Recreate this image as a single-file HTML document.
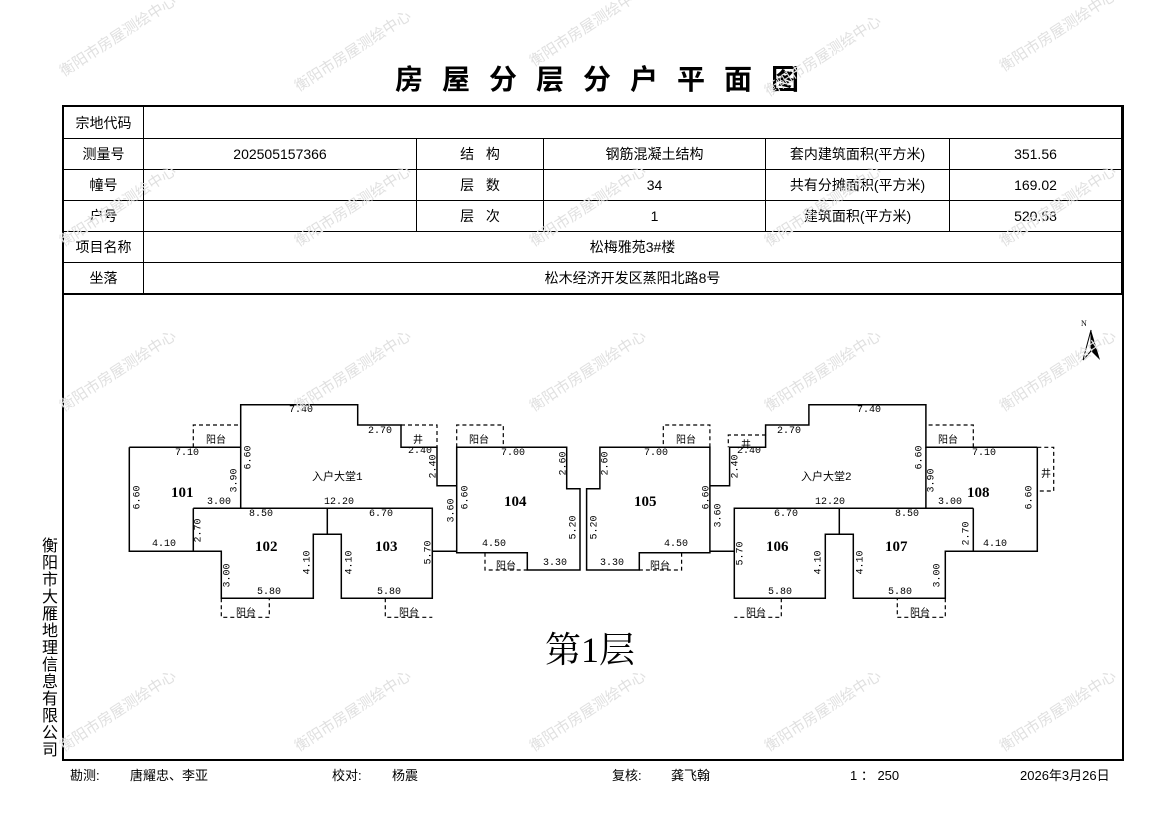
<!DOCTYPE html>
<html><head><meta charset="utf-8"><style>
html,body{margin:0;padding:0;background:#fff;}
body{width:1169px;height:827px;position:relative;overflow:hidden;font-family:"Liberation Sans","Noto Sans CJK SC",sans-serif;color:#000;}
.t{position:absolute;white-space:nowrap;}
.wm{position:absolute;color:#e0e0e0;font-size:15px;transform:rotate(-33deg);white-space:nowrap;font-family:"Liberation Sans","Noto Sans CJK SC",sans-serif;}
table{position:absolute;left:63px;top:106px;border-collapse:collapse;}
td{border:1px solid #000;font-size:14px;text-align:center;padding:0;height:30px;}
</style></head><body>
<div class="t" style="left:395px;top:58px;font-size:28px;font-weight:bold;letter-spacing:19px;">房屋分层分户平面图</div>

<div style="position:absolute;left:62px;top:105px;width:1058px;height:652px;border:2px solid #000;"></div>
<table>
<tr><td style="width:79px;height:31px">宗地代码</td><td colspan="5"></td></tr>
<tr><td>测量号</td><td style="width:272px">202505157366</td><td style="width:126px">结&nbsp;&nbsp;&nbsp;构</td><td style="width:221px">钢筋混凝土结构</td><td style="width:183px">套内建筑面积(平方米)</td><td style="width:171px">351.56</td></tr>
<tr><td>幢号</td><td></td><td>层&nbsp;&nbsp;&nbsp;数</td><td>34</td><td>共有分摊面积(平方米)</td><td>169.02</td></tr>
<tr><td>户号</td><td></td><td>层&nbsp;&nbsp;&nbsp;次</td><td>1</td><td>建筑面积(平方米)</td><td>520.58</td></tr>
<tr><td>项目名称</td><td colspan="5">松梅雅苑3#楼</td></tr>
<tr><td style="border-bottom:2px solid #000">坐落</td><td colspan="5" style="border-bottom:2px solid #000">松木经济开发区蒸阳北路8号</td></tr>
</table>

<svg width="1169" height="827" style="position:absolute;left:0;top:0" xmlns="http://www.w3.org/2000/svg">
<g id="L" fill="none" stroke="#000" stroke-width="1.5">
<path d="M129.3,447.3 H240.7 V404.7 H357.7 V425 H401 V447.3 H437 V485.7 H456.7"/>
<path d="M129.3,447.3 V551.3 H193.3 V508.3"/>
<path d="M193.3,508.3 H432.3 V598.3 H341.3 V534.3 H313.3 V598.3 H221.3 V551.3 H193.3"/>
<path d="M240.7,447.3 V508.3 M327.3,508.3 V534.3 M432.3,551.3 H456.7"/>
<path d="M456.7,447.3 H566.7 V488.7 H580 V570 H527.3 V552.7 H456.7 Z"/>
<g stroke-dasharray="4,3" stroke-width="1.2">
<path d="M193.3,447.3 V425 H240.7"/>
<path d="M456.7,447.3 V425 H503.3 V447.3"/>
<path d="M221.3,598.3 V617.3 H269.3 V598.3"/>
<path d="M385.3,598.3 V617.3 H432.3"/>
<path d="M485,552.7 V570 H527.3"/>
</g>
</g>
<use href="#L" transform="matrix(-1 0 0 1 1166.6 0)"/>
<g fill="none" stroke="#000" stroke-width="1.2" stroke-dasharray="4,3">
<path d="M401,425 H437 V447.3"/>
<path d="M766,435 H728.3 V447.3"/>
<path d="M1037.3,447.3 H1053.7 V491 H1037.3"/>
</g>
<polygon points="1091,330 1083,360 1091,351" fill="#fff" stroke="#000"/>
<polygon points="1091,330 1100,360 1091,351" fill="#000"/>
<text x="1081" y="326" font-size="8" font-family="Liberation Serif">N</text>
</svg>

<div style="position:absolute;left:0;top:0;font-family:'Liberation Mono','Noto Sans CJK SC',monospace;font-size:10px;">
<div class="t" style="left:289px;top:405px">7.40</div>
<div class="t" style="left:368px;top:426px">2.70</div>
<div class="t" style="left:413px;top:431px">井</div>
<div class="t" style="left:206px;top:431px">阳台</div>
<div class="t" style="left:175px;top:448px">7.10</div>
<div class="t" style="left:408px;top:446px">2.40</div>
<div class="t" style="left:422px;top:461px;transform:rotate(-90deg)">2.40</div>
<div class="t" style="left:237px;top:452px;transform:rotate(-90deg)">6.60</div>
<div class="t" style="left:312px;top:468px;font-size:11px">入户大堂1</div>
<div class="t" style="left:223px;top:475px;transform:rotate(-90deg)">3.90</div>
<div class="t" style="left:126px;top:492px;transform:rotate(-90deg)">6.60</div>
<div class="t" style="left:207px;top:497px">3.00</div>
<div class="t" style="left:324px;top:497px">12.20</div>
<div class="t" style="left:249px;top:509px">8.50</div>
<div class="t" style="left:369px;top:509px">6.70</div>
<div class="t" style="left:187px;top:525px;transform:rotate(-90deg)">2.70</div>
<div class="t" style="left:152px;top:539px">4.10</div>
<div class="t" style="left:296px;top:557px;transform:rotate(-90deg)">4.10</div>
<div class="t" style="left:338px;top:557px;transform:rotate(-90deg)">4.10</div>
<div class="t" style="left:417px;top:547px;transform:rotate(-90deg)">5.70</div>
<div class="t" style="left:216px;top:570px;transform:rotate(-90deg)">3.00</div>
<div class="t" style="left:257px;top:587px">5.80</div>
<div class="t" style="left:377px;top:587px">5.80</div>
<div class="t" style="left:236px;top:604px">阳台</div>
<div class="t" style="left:399px;top:604px">阳台</div>
<div class="t" style="left:440px;top:505px;transform:rotate(-90deg)">3.60</div>
<div class="t" style="left:469px;top:431px">阳台</div>
<div class="t" style="left:501px;top:448px">7.00</div>
<div class="t" style="left:552px;top:458px;transform:rotate(-90deg)">2.60</div>
<div class="t" style="left:454px;top:492px;transform:rotate(-90deg)">6.60</div>
<div class="t" style="left:562px;top:522px;transform:rotate(-90deg)">5.20</div>
<div class="t" style="left:482px;top:539px">4.50</div>
<div class="t" style="left:543px;top:558px">3.30</div>
<div class="t" style="left:496px;top:557px">阳台</div>

<div class="t" style="left:676px;top:431px">阳台</div>
<div class="t" style="left:644px;top:448px">7.00</div>
<div class="t" style="left:594px;top:458px;transform:rotate(-90deg)">2.60</div>
<div class="t" style="left:583px;top:522px;transform:rotate(-90deg)">5.20</div>
<div class="t" style="left:695px;top:492px;transform:rotate(-90deg)">6.60</div>
<div class="t" style="left:664px;top:539px">4.50</div>
<div class="t" style="left:600px;top:558px">3.30</div>
<div class="t" style="left:650px;top:557px">阳台</div>
<div class="t" style="left:741px;top:436px">井</div>
<div class="t" style="left:777px;top:426px">2.70</div>
<div class="t" style="left:857px;top:405px">7.40</div>
<div class="t" style="left:737px;top:446px">2.40</div>
<div class="t" style="left:724px;top:461px;transform:rotate(-90deg)">2.40</div>
<div class="t" style="left:801px;top:468px;font-size:11px">入户大堂2</div>
<div class="t" style="left:908px;top:452px;transform:rotate(-90deg)">6.60</div>
<div class="t" style="left:938px;top:431px">阳台</div>
<div class="t" style="left:972px;top:448px">7.10</div>
<div class="t" style="left:1041px;top:465px">井</div>
<div class="t" style="left:920px;top:475px;transform:rotate(-90deg)">3.90</div>
<div class="t" style="left:1018px;top:492px;transform:rotate(-90deg)">6.60</div>
<div class="t" style="left:815px;top:497px">12.20</div>
<div class="t" style="left:938px;top:497px">3.00</div>
<div class="t" style="left:774px;top:509px">6.70</div>
<div class="t" style="left:895px;top:509px">8.50</div>
<div class="t" style="left:707px;top:510px;transform:rotate(-90deg)">3.60</div>
<div class="t" style="left:955px;top:528px;transform:rotate(-90deg)">2.70</div>
<div class="t" style="left:983px;top:539px">4.10</div>
<div class="t" style="left:729px;top:548px;transform:rotate(-90deg)">5.70</div>
<div class="t" style="left:807px;top:557px;transform:rotate(-90deg)">4.10</div>
<div class="t" style="left:849px;top:557px;transform:rotate(-90deg)">4.10</div>
<div class="t" style="left:926px;top:570px;transform:rotate(-90deg)">3.00</div>
<div class="t" style="left:768px;top:587px">5.80</div>
<div class="t" style="left:888px;top:587px">5.80</div>
<div class="t" style="left:746px;top:604px">阳台</div>
<div class="t" style="left:910px;top:604px">阳台</div>
</div>

<div style="position:absolute;left:0;top:0;font-family:'Liberation Serif',serif;font-size:15px;font-weight:bold;">
<div class="t" style="left:171px;top:485px">101</div>
<div class="t" style="left:255px;top:539px">102</div>
<div class="t" style="left:375px;top:539px">103</div>
<div class="t" style="left:504px;top:494px">104</div>
<div class="t" style="left:634px;top:494px">105</div>
<div class="t" style="left:766px;top:539px">106</div>
<div class="t" style="left:885px;top:539px">107</div>
<div class="t" style="left:967px;top:485px">108</div>
</div>
<div class="t" style="left:545px;top:622px;font-size:36px;font-family:'Liberation Serif','Noto Serif CJK SC',serif;">第1层</div>

<div class="t" style="left:42px;top:538px;width:18px;font-size:16px;line-height:17px;white-space:normal;">衡阳市大雁地理信息有限公司</div>

<div style="position:absolute;top:765px;left:0;font-size:13px;">
<div class="t" style="left:70px">勘测:</div>
<div class="t" style="left:130px">唐耀忠、李亚</div>
<div class="t" style="left:332px">校对:</div>
<div class="t" style="left:392px">杨震</div>
<div class="t" style="left:612px">复核:</div>
<div class="t" style="left:671px">龚飞翰</div>
<div class="t" style="left:850px">1 ： 250</div>
<div class="t" style="left:1020px">2026年3月26日</div>
</div>

<div class="wm" style="left:50px;top:25px">衡阳市房屋测绘中心</div>
<div class="wm" style="left:285px;top:40px">衡阳市房屋测绘中心</div>
<div class="wm" style="left:520px;top:15px">衡阳市房屋测绘中心</div>
<div class="wm" style="left:755px;top:45px">衡阳市房屋测绘中心</div>
<div class="wm" style="left:990px;top:20px">衡阳市房屋测绘中心</div>
<div class="wm" style="left:50px;top:195px">衡阳市房屋测绘中心</div>
<div class="wm" style="left:285px;top:195px">衡阳市房屋测绘中心</div>
<div class="wm" style="left:520px;top:195px">衡阳市房屋测绘中心</div>
<div class="wm" style="left:755px;top:195px">衡阳市房屋测绘中心</div>
<div class="wm" style="left:990px;top:195px">衡阳市房屋测绘中心</div>
<div class="wm" style="left:50px;top:360px">衡阳市房屋测绘中心</div>
<div class="wm" style="left:285px;top:360px">衡阳市房屋测绘中心</div>
<div class="wm" style="left:520px;top:360px">衡阳市房屋测绘中心</div>
<div class="wm" style="left:755px;top:360px">衡阳市房屋测绘中心</div>
<div class="wm" style="left:990px;top:360px">衡阳市房屋测绘中心</div>
<div class="wm" style="left:50px;top:700px">衡阳市房屋测绘中心</div>
<div class="wm" style="left:285px;top:700px">衡阳市房屋测绘中心</div>
<div class="wm" style="left:520px;top:700px">衡阳市房屋测绘中心</div>
<div class="wm" style="left:755px;top:700px">衡阳市房屋测绘中心</div>
<div class="wm" style="left:990px;top:700px">衡阳市房屋测绘中心</div>
</body></html>
